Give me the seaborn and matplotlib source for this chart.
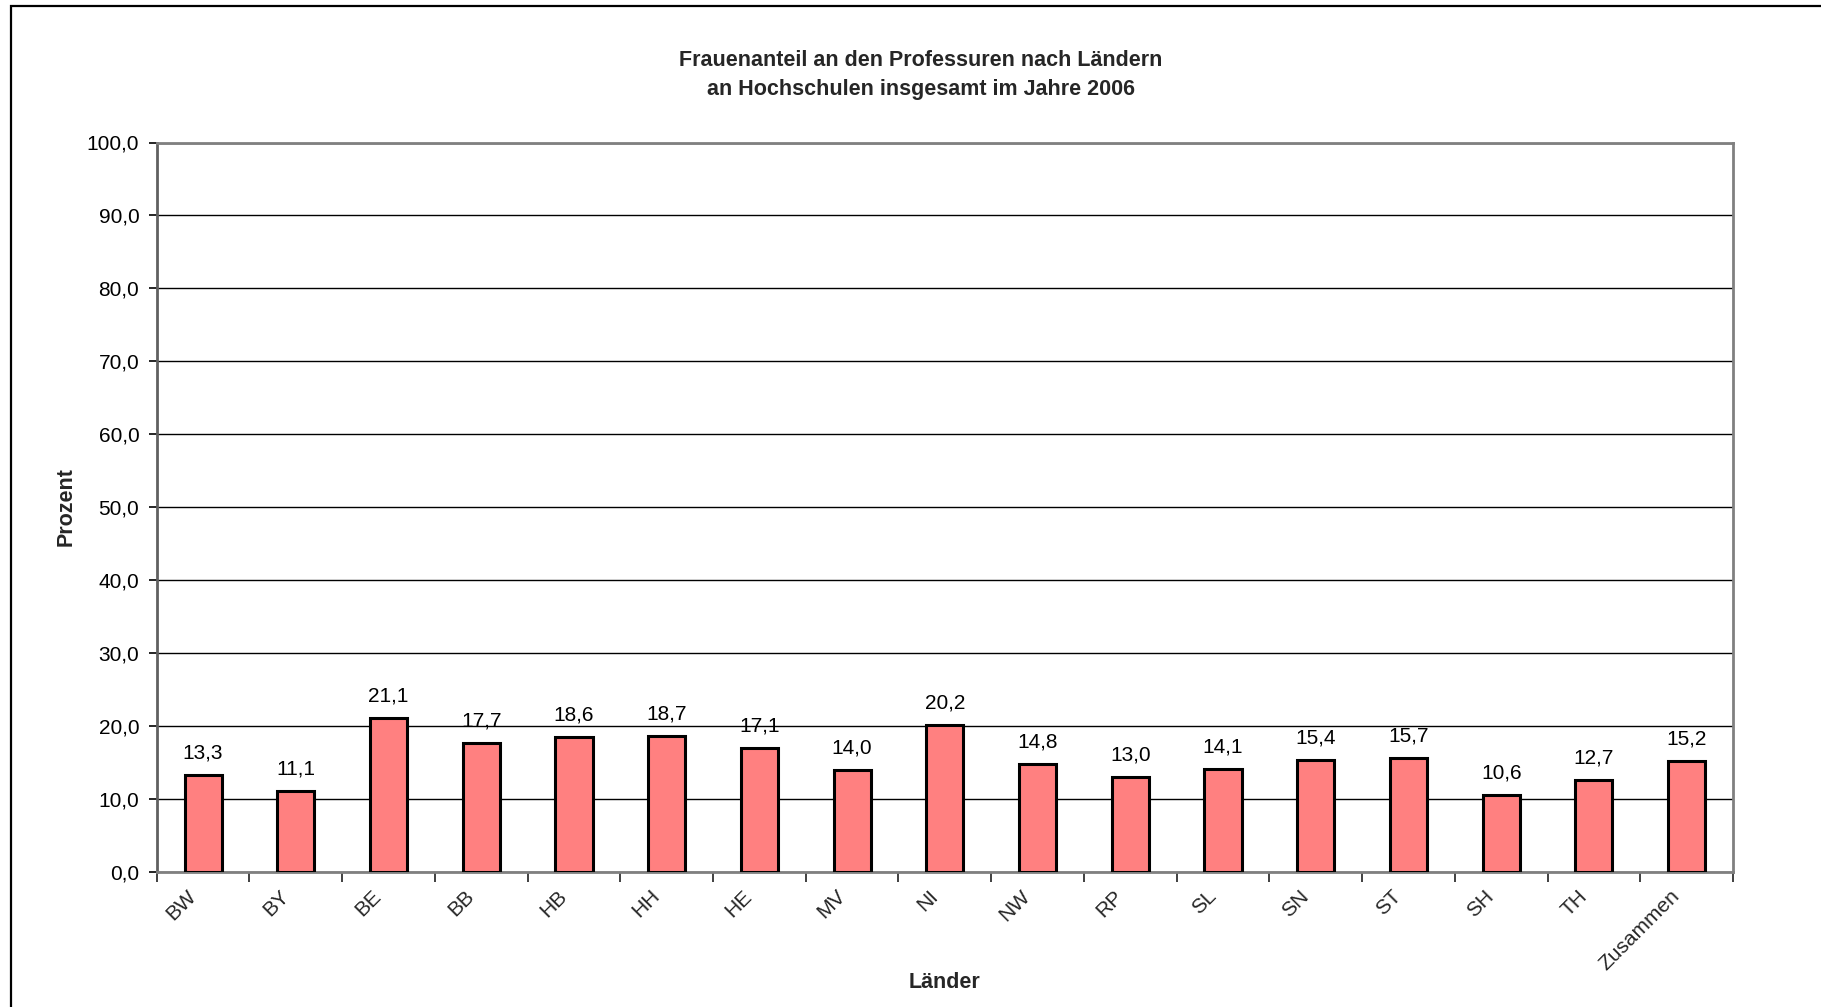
import matplotlib
matplotlib.use("Agg")
import matplotlib.pyplot as plt
import matplotlib.transforms as mtransforms
from matplotlib.patches import Rectangle
import seaborn as sns
import pandas as pd
import numpy as np

# Frauenanteil an Professuren je Land, 2006 (Prozent)
laender = ["BW", "BY", "BE", "BB", "HB", "HH", "HE", "MV", "NI", "NW",
           "RP", "SL", "SN", "ST", "SH", "TH", "Zusammen"]
anteil = [13.3, 11.1, 21.1, 17.7, 18.6, 18.7, 17.1, 14.0, 20.2, 14.8,
          13.0, 14.1, 15.4, 15.7, 10.6, 12.7, 15.2]
y_ticks = [0, 10, 20, 30, 40, 50, 60, 70, 80, 90, 100]

df = pd.DataFrame({"Land": laender, "Anteil": anteil})

sns.set_theme(style="white")
plt.rcParams["font.family"] = ["Liberation Sans", "DejaVu Sans"]

W, H, DPI = 1821, 1007, 100
fig = plt.figure(figsize=(W / DPI, H / DPI), dpi=DPI)
fig.patch.set_facecolor("white")

LABEL_SIZE = 15
BOLD_SIZE = 15.5

# plot area in pixel coordinates
left, right, top, bottom = 156.7, 1733.0, 142.5, 872.3
ax = fig.add_axes([left / W, 1 - bottom / H, (right - left) / W, (bottom - top) / H])

sns.barplot(data=df, x="Land", y="Anteil", ax=ax, color="#FF8080",
            saturation=1, width=0.4, edgecolor="black", linewidth=2.2, zorder=3)

ax.set_ylim(0, 100)
ax.set_xlim(-0.5, len(laender) - 0.5)
ax.set_yticks(y_ticks)
ax.set_yticklabels([f"{v:.1f}".replace(".", ",") for v in y_ticks], fontsize=LABEL_SIZE)
ax.yaxis.grid(True, color="black", linewidth=1.0, zorder=0)
ax.xaxis.grid(False)
ax.set_axisbelow(True)

for side in ["left", "right", "top", "bottom"]:
    ax.spines[side].set_visible(True)
    ax.spines[side].set_color("#808080")
    ax.spines[side].set_linewidth(2.0)
ax.spines["left"].set_color("#606060")

ax.tick_params(axis="y", which="major", left=True, length=6, width=1.2,
               color="black", pad=6.5, labelcolor="black")

# category boundaries carry the tick marks, labels sit at the centres
ax.set_xticks(np.arange(-0.5, len(laender), 1.0), minor=True)
ax.tick_params(axis="x", which="minor", bottom=True, length=7, width=1.2,
               color="#202020")
ax.tick_params(axis="x", which="major", bottom=False, length=0, pad=15)
ax.set_xticks(range(len(laender)))
ax.set_xticklabels(laender, fontsize=LABEL_SIZE, rotation=45, ha="right",
                   va="center", rotation_mode="anchor")
shift = mtransforms.ScaledTranslation(-0.1, 0, fig.dpi_scale_trans)
for lab in ax.get_xticklabels():
    lab.set_transform(lab.get_transform() + shift)

for i, v in enumerate(anteil):
    ax.annotate(f"{v:.1f}".replace(".", ","), (i, v), xytext=(0, 9),
                textcoords="offset points", ha="center", va="bottom",
                fontsize=LABEL_SIZE, color="black")

ax.set_xlabel("")
ax.set_ylabel("")
fig.text(945 / W, 1 - 982 / H, "Länder", ha="center", va="center",
         fontsize=BOLD_SIZE, fontweight="bold")
fig.text(66 / W, 1 - 507 / H, "Prozent", ha="center", va="center",
         rotation=90, fontsize=BOLD_SIZE, fontweight="bold")
fig.text(921 / W, 1 - 75 / H,
         "Frauenanteil an den Professuren nach Ländern\nan Hochschulen insgesamt im Jahre 2006",
         ha="center", va="center", fontsize=BOLD_SIZE, fontweight="bold", linespacing=1.5)

# chart frame
fig.patches.append(Rectangle((11 / W, -0.05), 1.0, 1 - 5.5 / H + 0.05,
                             transform=fig.transFigure, fill=False,
                             edgecolor="black", linewidth=1.6))

fig.savefig("out.png", dpi=DPI, facecolor="white")
